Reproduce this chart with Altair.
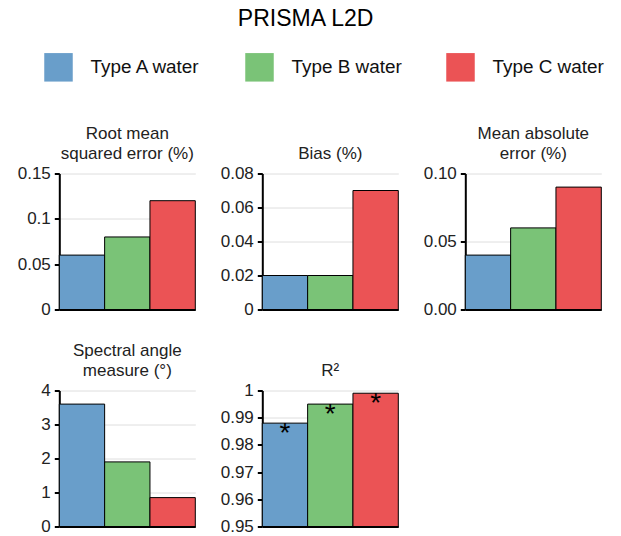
import altair as alt
import pandas as pd

# ---- data ----
types = ["Type A water", "Type B water", "Type C water"]
colors = ["#699eca", "#7ac377", "#eb5355"]

rmse = [0.06, 0.08, 0.12]
bias = [0.02, 0.02, 0.07]
mae = [0.04, 0.06, 0.09]
sam = [3.6, 1.9, 0.85]
r2 = [0.988, 0.995, 0.999]
r2_marks = ["*", "*", "*"]

panel_titles = [
    ["Root mean", "squared error (%)"],
    ["Bias (%)"],
    ["Mean absolute", "error (%)"],
    ["Spectral angle", "measure (°)"],
    ["R²"],
]
y_domains = [[0, 0.15], [0, 0.08], [0, 0.10], [0, 4], [0.95, 1.0]]
y_ticks = [
    [0, 0.05, 0.1, 0.15],
    [0, 0.02, 0.04, 0.06, 0.08],
    [0, 0.05, 0.10],
    [0, 1, 2, 3, 4],
    [0.95, 0.96, 0.97, 0.98, 0.99, 1.0],
]
y_formats = ["~g", "~g", ".2f", "~g", "~g"]
series = [rmse, bias, mae, sam, r2]

FONT = "Liberation Sans"
W, H = 136, 136

color_enc = alt.Color(
    "type:N",
    scale=alt.Scale(domain=types, range=colors),
    legend=alt.Legend(
        orient="none",
        legendX=-15.3,
        legendY=-120.8,
        direction="horizontal",
        columns=3,
        title=None,
        symbolType="square",
        symbolSize=812,
        symbolStrokeWidth=0,
        symbolOpacity=1,
        labelFont=FONT,
        labelFontSize=18.9,
        labelColor="#111111",
        labelOffset=17.5,
        columnPadding=44,
        padding=0,
    ),
)


def panel(i, marks=None):
    df = pd.DataFrame(
        {
            "type": types,
            "value": series[i],
            "base": [y_domains[i][0]] * 3,
        }
    )
    if marks is not None:
        df["mark"] = marks
    base = alt.Chart(df)
    x = alt.X(
        "type:N",
        sort=types,
        scale=alt.Scale(paddingInner=0, paddingOuter=0),
        axis=alt.Axis(
            labels=False, ticks=False, title=None, grid=False,
            domainColor="black", domainWidth=2, zindex=1,
        ),
    )
    y = alt.Y(
        "value:Q",
        scale=alt.Scale(domain=y_domains[i], nice=False, zero=False),
        axis=alt.Axis(
            values=y_ticks[i],
            labelExpr=f"format(datum.value, '{y_formats[i]}')",
            title=None, grid=True, zindex=0,
        ),
    )
    bars = base.mark_bar(stroke="black", strokeWidth=1, opacity=1).encode(
        x=x, y=y, y2="base:Q", color=color_enc
    )
    layers = [bars]
    if marks is not None:
        txt = base.mark_text(
            font=FONT, fontSize=28, baseline="alphabetic", dy=18.5, color="black"
        ).encode(x=x, y=y, text="mark:N")
        layers.append(txt)
    title = alt.TitleParams(
        panel_titles[i], font=FONT, fontSize=17, fontWeight="normal",
        color="#222222", lineHeight=19.5, offset=2, anchor="middle",
    )
    return alt.layer(*layers).properties(width=W, height=H, title=title)


charts = [panel(0), panel(1), panel(2), panel(3), panel(4, r2_marks)]

chart = (
    alt.concat(
        *charts,
        columns=3,
        spacing=alt.RowColnumber(row=81, column=67),
        bounds="flush",
    )
    .properties(
        title=alt.TitleParams(
            "PRISMA L2D", font=FONT, fontSize=23, fontWeight="normal",
            color="#000000", anchor="middle", offset=22, dx=-5,
        ),
        autosize=alt.AutoSizeParams(type="none"),
        padding={"left": 59.3, "top": 173.5, "right": 621 - 59.3, "bottom": 536 - 173.5},
    )
    .configure_view(stroke=None)
    .configure_axis(
        labelFont=FONT,
        labelFontSize=17,
        labelColor="#222222",
        labelPadding=4,
        tickSize=5,
        tickColor="black",
        tickWidth=2,
        domainColor="black",
        domainWidth=2,
        gridColor="#dedede",
        gridWidth=1,
    )
)

chart.save("out.html", embed_options={"renderer": "svg", "actions": False})
